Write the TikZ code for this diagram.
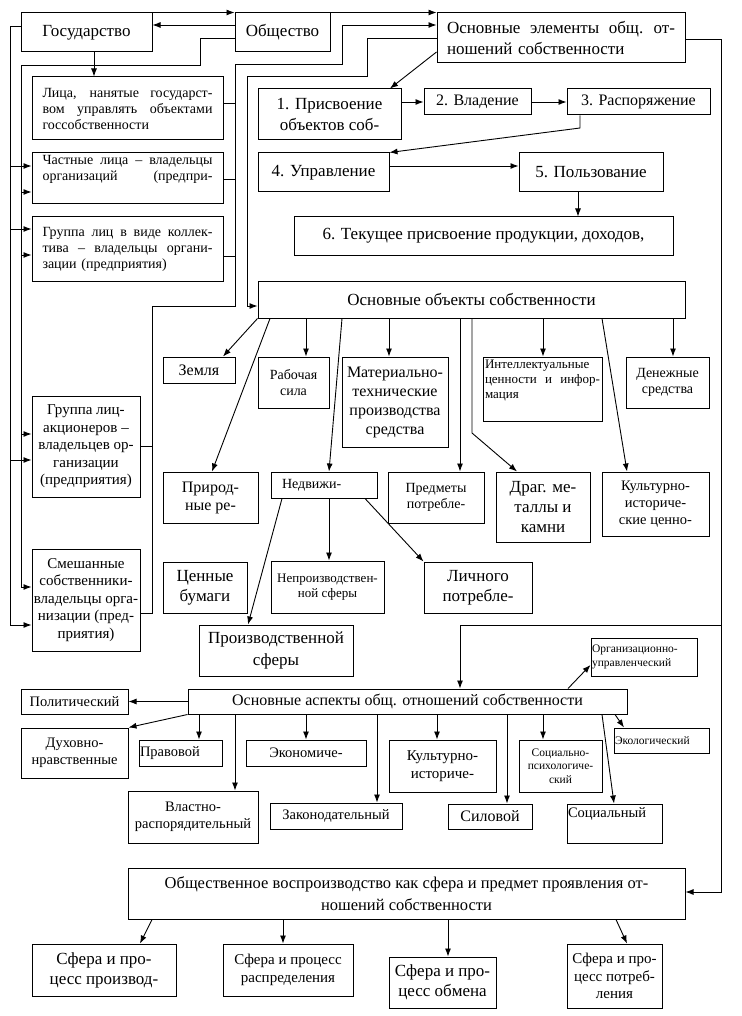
\documentclass[tikz,border=0pt]{standalone}
\usepackage{fontspec}
\setmainfont{Liberation Serif}
\usetikzlibrary{arrows.meta}
\newcommand\jl[2]{{\spaceskip=0.25em plus 1fil\xspaceskip=0.3em plus 1fil\makebox[#1][s]{#2}}}
\newcommand\fbig{\fontsize{17}{21.5}\selectfont}
\newcommand\fbigl{\fontsize{17}{20}\selectfont}
\newcommand\fbigm{\fontsize{16.5}{22}\selectfont}
\newcommand\fsix{\fontsize{16}{19}\selectfont}
\newcommand\fprir{\fontsize{16}{18}\selectfont}
\newcommand\fmed{\fontsize{15}{17.5}\selectfont}
\newcommand\fsmlb{\fontsize{14.5}{17}\selectfont}
\newcommand\fsml{\fontsize{14}{16}\selectfont}
\newcommand\fsm{\fontsize{13}{15}\selectfont}
\newcommand\fxs{\fontsize{11.5}{13.5}\selectfont}
\newcommand\mybox[7][]{\node[box,minimum width={(#5-#3)*1pt},minimum height={(#6-#4)*1pt},#1] (#2) at ({(#3+#5)/2},{(#4+#6)/2}) {#7};}
\begin{document}
\begin{tikzpicture}[x=1pt,y=-1pt,
  box/.style={draw,line width=1pt,inner sep=0pt,align=center,font=\fbig},
  arr/.style={line width=0.9pt,-{Latex[length=8pt,width=6pt]}},
  ln/.style={line width=0.9pt}]
\fill[white] (0,0) rectangle (741,1016);
\useasboundingbox (0,0) rectangle (741,1016);

% top
\mybox{gos}{21}{13}{152}{52}{Государство}
\mybox{obsh}{235}{13}{330}{52}{Общество}
\mybox[text width=228pt,align=left]{oel}{437}{13}{685}{63}{\jl{228pt}{Основные элементы общ. от-}\\ношений собственности}

% left boxes
\mybox[font=\fsml,text width=170pt,align=left]{lica}{32}{77}{223}{140}{\jl{170pt}{Лица, нанятые государст-}\\\jl{170pt}{вом управлять объектами}\\госсобственности}
\mybox[font=\fsml,text width=170pt,align=left]{chast}{32}{153}{223}{204}{\jl{170pt}{Частные лица – владельцы}\\\jl{170pt}{организаций (предпри-}\\\strut}
\mybox[font=\fsml,text width=170pt,align=left]{grkol}{32}{217}{223}{281}{\jl{170pt}{Группа лиц в виде коллек-}\\\jl{170pt}{тива – владельцы органи-}\\зации (предприятия)}
\mybox[font=\fmed]{grakc}{32}{396}{140}{497}{Группа лиц-\\акционеров –\\владельцев ор-\\ганизации\\(предприятия)}
\mybox[font=\fmed]{smesh}{32}{549}{140}{651}{Смешанные\\собственники-\\владельцы орга-\\низации (пред-\\приятия)}

% elements
\mybox{p1}{258}{89}{401}{140}{1. Присвоение\\объектов соб-}
\mybox[font=\fsix]{p2}{424}{89}{531}{115}{2. Владение}
\mybox[font=\fsix]{p3}{567}{89}{710}{115}{3. Распоряжение}
\mybox{p4}{258}{153}{389}{192}{4. Управление}
\mybox{p5}{519}{153}{663}{192}{5. Пользование}
\mybox{p6}{294}{217}{673}{255}{6. Текущее присвоение продукции, доходов,}

% objects
\mybox{oob}{258}{281}{685}{318}{Основные объекты собственности}
\mybox[font=\fsix]{zem}{163}{357}{235}{383}{Земля}
\mybox[font=\fsml]{rab}{258}{357}{329}{408}{Рабочая\\сила}
\mybox[font=\fsix]{mat}{342}{357}{448}{447}{Материально-\\технические\\производства\\средства}
\mybox[font=\fsm,text width=115pt,align=left]{intel}{483}{357}{602}{421}{Интеллектуальные\\\jl{115pt}{ценности и инфор-}\\мация\\\strut}
\mybox[font=\fsml]{den}{626}{357}{709}{408}{Денежные\\средства}
\mybox[font=\fprir]{prir}{163}{472}{258}{523}{Природ-\\ные ре-}
\mybox[font=\fsml,text width=84pt,align=left]{nedv}{271}{472}{377}{498}{Недвижи-}
\mybox[font=\fsml]{pred}{388}{472}{484}{523}{Предметы\\потребле-}
\mybox[font=\fbigl]{drag}{496}{472}{590}{542}{Драг. ме-\\таллы и\\камни}
\mybox[font=\fsmlb]{kult}{602}{472}{709}{536}{Культурно-\\историче-\\ские ценно-}
\mybox[font=\fbigl]{cenn}{163}{562}{247}{613}{Ценные\\бумаги}
\mybox[font=\fsm]{neproiz}{271}{561}{384}{613}{Непроизводствен-\\ной сферы}
\mybox[font=\fbigl]{lichn}{424}{562}{532}{613}{Личного\\потребле-}
\mybox{proizv}{199}{625}{353}{676}{Производственной\\сферы}

% aspects
\mybox[font=\fsix]{asp}{188}{689}{627}{714}{Основные аспекты общ. отношений собственности}
\mybox[font=\fsmlb]{polit}{21}{689}{128}{714}{Политический}
\mybox[font=\fsmlb]{duh}{21}{728}{128}{778}{Духовно-\\нравственные}
\mybox[font=\fsmlb,text width=81pt,align=left]{prav}{139}{740}{222}{766}{Правовой}
\mybox[font=\fsmlb]{econ}{246}{740}{366}{766}{Экономиче-}
\mybox[font=\fsmlb]{vlast}{128}{791}{258}{843}{Властно-\\распорядительный}
\mybox[font=\fsmlb]{zakon}{270}{803}{402}{829}{Законодательный}
\mybox[font=\fmed]{kultasp}{389}{740}{496}{792}{Культурно-\\историче-}
\mybox[font=\fsix]{silov}{448}{804}{532}{829}{Силовой}
\mybox[font=\fxs]{socpsy}{519}{740}{602}{792}{Социально-\\психологиче-\\ский}
\mybox[font=\fsmlb,text width=93pt,align=left]{social}{567}{804}{662}{843}{Социальный\\\strut}
\mybox[font=\fxs,text width=93pt,align=left]{ekol}{614}{728}{709}{753}{Экологический}
\mybox[font=\fxs,text width=104pt,align=left]{org}{591}{638}{697}{676}{Организационно-\\управленческий}

% bottom
\mybox[font=\fbigm]{obvos}{128}{868}{685}{919}{Общественное воспроизводство как сфера и предмет проявления от-\\ношений собственности}
\mybox[font=\fbigl]{sf1}{32}{944}{176}{996}{Сфера и про-\\цесс производ-}
\mybox[font=\fmed]{sf2}{223}{944}{353}{996}{Сфера и процесс\\распределения}
\mybox[font=\fbigl]{sf3}{389}{957}{496}{1008}{Сфера и про-\\цесс обмена}
\mybox[font=\fmed]{sf4}{567}{944}{662}{1008}{Сфера и про-\\цесс потреб-\\ления}

% ---------- connectors ----------
\draw[arr] (gos.north east) -- (obsh.north west);
\draw[arr] (obsh.west |- 0,25) -- (gos.east |- 0,25);
\draw[arr] (obsh.north east) -- (oel.north west);

% right sides of left boxes -> oel
\coordinate (ja) at (152,446);
\coordinate (jb) at (235,103);
\coordinate (jc) at (235,179);
\coordinate (jd) at (235,256);
\draw[arr] (smesh.east |- 0,613) -- (152,613) -- (152,306) -- (235,306) -- (235,64) -- (342,64) -- (342,25) -- (oel.west |- 0,25);
\draw[ln] (grakc.east |- ja) -- (ja);
\draw[ln] (lica.east |- jb) -- (jb);
\draw[ln] (chast.east |- jc) -- (jc);
\draw[ln] (grkol.east |- jd) -- (jd);

% oel -> oob
\draw[arr] (oel.west |- 0,38) -- (367,38) -- (367,76) -- (247,76) -- (247,306) -- (oob.west |- 0,306);

% obsh -> inner left line
\coordinate (ia) at (21,192);
\coordinate (ib) at (21,255);
\coordinate (ic) at (21,434);
\draw[arr] (obsh.west |- 0,38) -- (200,38) -- (200,65) -- (21,65) -- (21,587) -- (smesh.west |- 0,587);
\draw[arr] (ia) -- (chast.west |- ia);
\draw[arr] (ib) -- (grkol.west |- ib);
\draw[arr] (ic) -- (grakc.west |- ic);

% gos -> outer left line
\coordinate (oa) at (10,166);
\coordinate (ob) at (10,229);
\coordinate (oc) at (10,460);
\draw[arr] (gos.west |- 0,26) -- (10,26) -- (10,625) -- (smesh.west |- 0,625);
\draw[arr] (oa) -- (chast.west |- oa);
\draw[arr] (ob) -- (grkol.west |- ob);
\draw[arr] (oc) -- (grakc.west |- oc);

\draw[arr] (gos.south -| 94,0) -- (lica.north -| 94,0);

% elements chain
\draw[arr] (oel.west |- 0,52) -- (p1.north -| 390,0);
\draw[arr] (p1.east |- 0,102) -- (p2.west |- 0,102);
\draw[arr] (p2.east) -- (p3.west);
\draw[arr] (p3.south -| 580,0) -- (580,128) -- (p4.north east);
\draw[arr] (p4.east |- 0,166) -- (p5.west |- 0,166);
\draw[arr] (p5.south -| 578,0) -- (p6.north -| 578,0);

% right long line
\coordinate (ra) at (721,625);
\draw[arr] (oel.east |- 0,39) -- (721,39) -- (721,892) -- (obvos.east |- 0,892);
\draw[arr] (ra) -- (460,625) -- (asp.north -| 460,0);

% objects
\draw[arr] (oob.south west) -- (zem.north -| 223,0);
\draw[arr] (oob.south -| 270,0) -- (prir.north -| 212,0);
\draw[arr] (oob.south -| 306,0) -- (rab.north -| 306,0);
\draw[arr] (oob.south -| 342,0) -- (nedv.north -| 329,0);
\draw[arr] (oob.south -| 389,0) -- (mat.north -| 389,0);
\draw[arr] (oob.south -| 460,0) -- (pred.north -| 460,0);
\draw[arr] (oob.south -| 472,0) -- (472,433) -- (drag.north -| 517,0);
\draw[arr] (oob.south -| 543,0) -- (intel.north -| 543,0);
\draw[arr] (oob.south -| 602,0) -- (kult.north -| 627,0);
\draw[arr] (oob.south -| 673,0) -- (den.north -| 673,0);

\draw[arr] (nedv.south -| 282,0) -- (proizv.north -| 248,0);
\draw[arr] (nedv.south -| 329,0) -- (neproiz.north -| 329,0);
\draw[arr] (nedv.south -| 365,0) -- (lichn.north west);

% aspects
\draw[arr] (asp.west) -- (polit.east);
\draw[arr] (asp.south west) -- (duh.north east);
\draw[arr] (asp.south -| 199,0) -- (prav.north -| 199,0);
\draw[arr] (asp.south -| 235,0) -- (vlast.north -| 235,0);
\draw[arr] (asp.south -| 306,0) -- (econ.north -| 306,0);
\draw[arr] (asp.south -| 377,0) -- (zakon.north -| 377,0);
\draw[arr] (asp.south -| 437,0) -- (kultasp.north -| 437,0);
\draw[arr] (asp.south -| 507,0) -- (silov.north -| 507,0);
\draw[arr] (asp.south -| 543,0) -- (socpsy.north -| 543,0);
\draw[arr] (asp.south -| 602,0) -- (social.north -| 614,0);
\draw[arr] (asp.south -| 615,0) -- (ekol.north -| 624,0);
\draw[arr] (asp.north -| 568,0) -- (org.west |- 0,665);

% bottom
\draw[arr] (obvos.south -| 152,0) -- (sf1.north -| 140,0);
\draw[arr] (obvos.south -| 283,0) -- (sf2.north -| 283,0);
\draw[arr] (obvos.south -| 448,0) -- (sf3.north -| 448,0);
\draw[arr] (obvos.south -| 616,0) -- (sf4.north -| 627,0);
\end{tikzpicture}
\end{document}
